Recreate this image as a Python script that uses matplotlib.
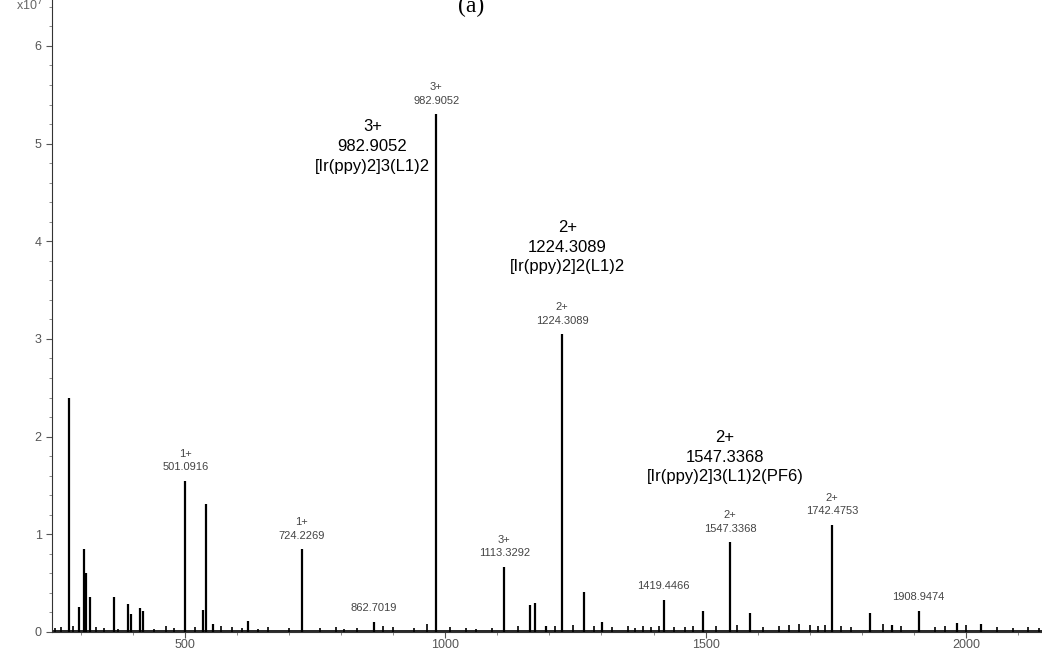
import numpy as np
import matplotlib
matplotlib.use('Agg')
import matplotlib.pyplot as plt

# main peaks (m/z, intensity x10^7)
main_mz = [277, 296, 306, 310, 317, 364, 390, 396, 413, 420, 501.0916, 534, 541.5, 554, 621,
           724.2269, 862.7019, 982.9052, 1113.3292, 1163, 1173, 1194, 1224.3089, 1267, 1301,
           1419.4466, 1495, 1547.3368, 1585, 1742.4753, 1815, 1858, 1908.9474, 1983, 2029]
main_int = [2.40, 0.26, 0.85, 0.60, 0.36, 0.36, 0.29, 0.18, 0.25, 0.22, 1.55, 0.23, 1.31, 0.08, 0.11,
            0.85, 0.105, 5.30, 0.67, 0.28, 0.30, 0.06, 3.05, 0.41, 0.10,
            0.33, 0.22, 0.92, 0.19, 1.10, 0.19, 0.07, 0.22, 0.09, 0.08]

# baseline noise peaks
noise_mz = [250, 262, 285, 330, 345, 372, 440, 463, 480, 520, 570, 590, 610, 640, 660, 700, 760,
            790, 805, 830, 880, 900, 940, 965, 1010, 1040, 1060, 1090, 1140, 1210, 1245, 1285,
            1320, 1350, 1365, 1380, 1395, 1410, 1440, 1460, 1475, 1520, 1560, 1610, 1640, 1660,
            1680, 1700, 1715, 1730, 1760, 1780, 1840, 1875, 1940, 1960, 2000, 2060, 2090, 2120, 2140]
noise_int = [0.04, 0.05, 0.06, 0.05, 0.04, 0.03, 0.03, 0.06, 0.04, 0.05, 0.06, 0.05, 0.04, 0.03, 0.05,
             0.04, 0.04, 0.05, 0.03, 0.04, 0.06, 0.05, 0.04, 0.08, 0.05, 0.04, 0.03, 0.04, 0.06,
             0.06, 0.07, 0.06, 0.05, 0.06, 0.04, 0.06, 0.05, 0.06, 0.05, 0.05, 0.06, 0.06, 0.07,
             0.05, 0.06, 0.07, 0.08, 0.07, 0.06, 0.07, 0.06, 0.05, 0.08, 0.06, 0.05, 0.06, 0.07,
             0.05, 0.04, 0.05, 0.04]

# small peak labels (charge, value, mz, intensity)
small_labels = [('1+', '501.0916', 501.0916, 1.55), ('1+', '724.2269', 724.2269, 0.85),
                ('', '862.7019', 862.7019, 0.105), ('3+', '982.9052', 982.9052, 5.30),
                ('3+', '1113.3292', 1113.3292, 0.67), ('2+', '1224.3089', 1224.3089, 3.05),
                ('', '1419.4466', 1419.4466, 0.33), ('2+', '1547.3368', 1547.3368, 0.92),
                ('2+', '1742.4753', 1742.4753, 1.10), ('', '1908.9474', 1908.9474, 0.22)]

# bold assignments (text, x, y)
big_labels = [('3+\n982.9052\n[Ir(ppy)2]3(L1)2', 860, 5.25),
              ('2+\n1224.3089\n[Ir(ppy)2]2(L1)2', 1235, 4.22),
              ('2+\n1547.3368\n[Ir(ppy)2]3(L1)2(PF6)', 1537, 2.07)]

fig = plt.figure(figsize=(10.42, 6.51), dpi=100)
ax = fig.add_axes([0.05, 0.0292, 0.95, 0.9708])

ax.axhline(0.015, color='black', lw=1.2)
ax.vlines(noise_mz, 0, noise_int, color='black', lw=1.2)
ax.vlines(main_mz, 0, main_int, color='black', lw=1.6)

for ch, val, x, y in small_labels:
    txt = val if ch == '' else ch + '\n' + val
    ax.annotate(txt, (x, y), xytext=(0, 6), textcoords='offset points',
                ha='center', va='bottom', fontsize=8, color='#444444',
                family='Liberation Sans', linespacing=1.45)

for txt, x, y in big_labels:
    ax.text(x, y, txt, ha='center', va='top', fontsize=12, color='black',
            family='Liberation Sans', linespacing=1.4)

ax.set_xlim(245, 2146)
ax.set_ylim(0, 6.47)
ax.set_xticks([500, 1000, 1500, 2000])
ax.set_xticks(np.arange(300, 2101, 100), minor=True)
ax.set_yticks([0, 1, 2, 3, 4, 5, 6])
ax.set_yticks(np.arange(0, 6.41, 0.2), minor=True)
ax.spines['top'].set_visible(False)
ax.spines['right'].set_visible(False)
ax.spines['left'].set_color('#333333')
ax.spines['bottom'].set_color('#333333')
ax.tick_params(which='major', length=4, color='#555555', labelcolor='#555555', labelsize=9)
ax.tick_params(axis='x', which='major', pad=1)
ax.tick_params(which='minor', length=2.5, color='#777777')
for lab in ax.get_xticklabels() + ax.get_yticklabels():
    lab.set_family('Liberation Sans')

fig.text(0.028, 0.993, 'x10$^7$', ha='center', va='center', fontsize=9, color='#666666',
         family='Liberation Sans')
fig.text(0.452, 0.99, '(a)', ha='center', va='center', fontsize=17, family='Liberation Serif')

fig.savefig('out.png', dpi=100)
